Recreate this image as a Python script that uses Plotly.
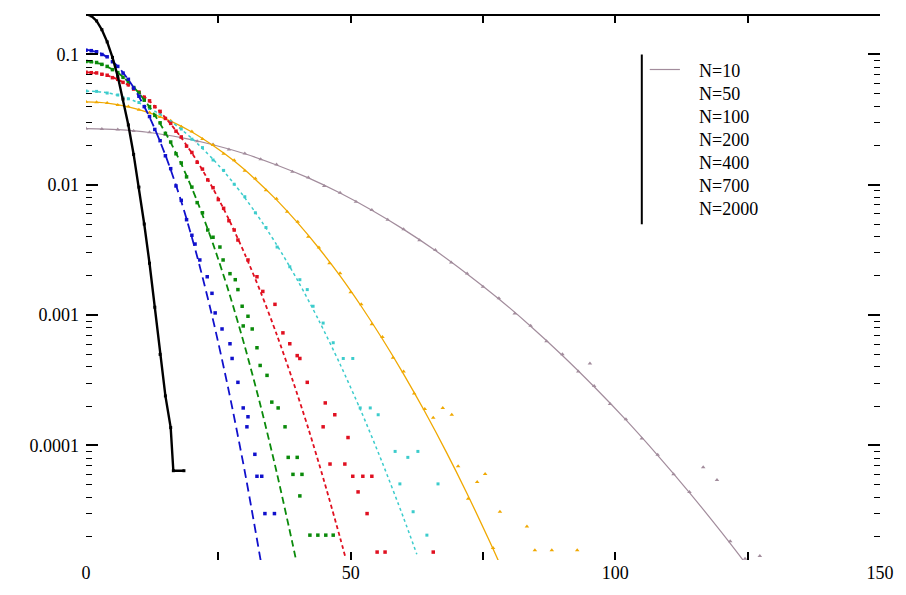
import plotly.graph_objects as go

# ---------------- data ----------------
labels = ["N=10", "N=50", "N=100", "N=200", "N=400", "N=700", "N=2000"]
colors = ["#a28c9c", "#f0a800", "#3ccccc", "#e01020", "#0a8a0a", "#1010cc", "#000000"]

# fitted curves
fit_x_n10 = [0, 6, 12, 18, 24, 30, 36, 42, 48, 54, 60, 66, 72, 78, 84, 90, 96, 102, 108, 114, 120, 124.5]
fit_y_n10 = [0.027, 0.0265, 0.0252, 0.023, 0.0203, 0.0173, 0.0142, 0.0113, 0.00865, 0.00638, 0.00455,
             0.00313, 0.00207, 0.00133, 0.000822, 0.00049, 0.000282, 0.000157, 8.4e-5, 4.35e-5, 2.17e-5, 1.26e-5]
fit_x_n50 = [0, 4, 8, 12, 16, 20, 24, 28, 32, 36, 40, 44, 48, 52, 56, 60, 64, 68, 72, 76, 78]
fit_y_n50 = [0.0433, 0.0424, 0.0397, 0.0357, 0.0308, 0.0254, 0.02, 0.0152, 0.011, 0.00766, 0.0051,
             0.00326, 0.002, 0.00117, 0.000656, 0.000353, 0.000182, 9e-5, 4.26e-5, 1.93e-5, 1.28e-5]
fit_x_n100 = [0, 4, 8, 12, 16, 20, 24, 28, 32, 36, 40, 44, 48, 52, 56, 60, 62.5]
fit_y_n100 = [0.0525, 0.0508, 0.0459, 0.0388, 0.0307, 0.0227, 0.0157, 0.01016, 0.00614, 0.00348,
              0.00184, 0.000908, 0.00042, 0.000182, 7.34e-5, 2.78e-5, 1.46e-5]
fit_x_n200 = [0, 3, 6, 9, 12, 15, 18, 21, 24, 27, 30, 33, 36, 39, 42, 45, 48, 49]
fit_y_n200 = [0.0731, 0.0708, 0.0643, 0.0547, 0.0438, 0.0327, 0.023, 0.01514, 0.00935, 0.00542,
              0.00294, 0.0015, 0.000716, 0.00032, 0.000135, 5.3e-5, 1.96e-5, 1.39e-5]
fit_x_n400 = [0, 3, 6, 9, 12, 15, 18, 21, 24, 27, 30, 33, 36, 39, 39.7]
fit_y_n400 = [0.0885, 0.0841, 0.0724, 0.0562, 0.0395, 0.0251, 0.01445, 0.0075, 0.00352, 0.0015,
              0.000575, 0.0002, 6.28e-5, 1.78e-5, 1.31e-5]
fit_x_n700 = [0, 3, 6, 9, 12, 15, 18, 21, 24, 27, 30, 33]
fit_y_n700 = [0.109, 0.101, 0.081, 0.0557, 0.0331, 0.0169, 0.00745, 0.00282, 0.00092, 0.000259, 6.3e-5, 1.31e-5]

# measured points
pts_x_n10 = [0, 3, 6, 9, 12, 15, 18, 21, 24, 27, 30, 33, 36, 39, 42, 45, 48, 51, 54, 57, 60, 63, 66, 69,
             72, 75, 78, 81, 84, 87, 90, 93, 96, 99, 102, 105, 108, 111, 114,
             95.2, 116.6, 119.2, 121.7, 124.5, 127.3]
pts_y_n10 = [0.027, 0.0268, 0.0266, 0.0259, 0.0253, 0.0241, 0.0231, 0.0216, 0.0204, 0.0187, 0.0174, 0.0157,
             0.0143, 0.0126, 0.0114, 0.0098, 0.0087, 0.0074, 0.0064, 0.0054, 0.00457, 0.00376, 0.00316,
             0.00253, 0.00209, 0.00165, 0.00135, 0.00103, 0.00083, 0.00063, 0.00050, 0.00037, 0.000286,
             0.000208, 0.000159, 0.000113, 8.5e-5, 6.0e-5, 4.4e-5,
             0.000426, 6.8e-5, 5.43e-5, 1.84e-5, 1.35e-5, 1.42e-5]
pts_x_n50 = [0, 2, 4, 6, 8, 10, 12, 14, 16, 18, 20, 22, 24, 26, 28, 30, 32, 34, 36, 38, 40, 42, 44, 46,
             48, 50, 52, 54, 56, 58, 60, 62, 64,
             67.4, 69.1, 65.6, 70.3, 73.9, 75.4, 72.2, 78.2, 83.3, 76.9, 84.8, 88.0, 92.8]
pts_y_n50 = [0.0433, 0.0430, 0.0425, 0.0410, 0.0399, 0.0376, 0.0359, 0.0331, 0.0310, 0.0279, 0.0256,
             0.0225, 0.0202, 0.0173, 0.0154, 0.0128, 0.0112, 0.0091, 0.0078, 0.0062, 0.0052, 0.0040,
             0.0033, 0.0025, 0.0021, 0.00150, 0.00121, 0.00085, 0.00068, 0.00047, 0.00037, 0.00025, 0.00019,
             0.000194, 0.000172, 0.000163, 6.93e-5, 5.25e-5, 6.03e-5, 3.9e-5, 3.1e-5, 2.39e-5, 1.63e-5,
             1.57e-5, 1.57e-5, 1.57e-5]
pts_x_n100 = [0, 2, 4, 6, 8, 10, 12, 14, 16, 18, 20, 22, 24, 26, 28, 30, 32, 34,
              36.1, 38.5, 40.4, 41.8, 42.9, 44.8, 46.7, 48.6, 50.4, 51.8, 53.7, 55.2, 58.4, 60.8, 62.7,
              59.3, 66.5, 61.8, 64.4]
pts_y_n100 = [0.0525, 0.0521, 0.0506, 0.0489, 0.0457, 0.0428, 0.0385, 0.0351, 0.0304, 0.0268, 0.0224,
              0.0193, 0.0155, 0.0129, 0.0101, 0.0081, 0.0061, 0.0047,
              0.00333, 0.00235, 0.00187, 0.00157, 0.00117, 0.000869, 0.000614, 0.000465, 0.000465,
              0.000194, 0.000194, 0.000172, 9.0e-5, 8.1e-5, 9.0e-5, 5.07e-5, 5.07e-5, 3.1e-5, 2.05e-5]
pts_x_n200 = [0, 1, 2, 3, 4, 5, 6, 7, 8, 9, 10, 11, 12, 13, 14, 15, 16, 17, 18, 19, 20, 21, 22, 23, 24,
              25, 26, 27, 28,
              28.7, 30.6, 32.3, 33.4, 35.7, 37.2, 38.5, 39.9, 40.4, 41.8, 45.2, 47.0, 44.8, 49.5, 46.1,
              48.9, 50.4, 52.3, 54.0, 51.4, 53.1, 55.0, 56.5, 65.6]
pts_y_n200 = [0.0731, 0.0725, 0.0722, 0.0705, 0.0693, 0.0664, 0.0645, 0.0611, 0.0585, 0.0543, 0.0515,
              0.0470, 0.0441, 0.0397, 0.0366, 0.0323, 0.0296, 0.0258, 0.0233, 0.0198, 0.0177, 0.0149,
              0.0132, 0.0109, 0.0095, 0.0077, 0.0066, 0.0053, 0.0045,
              0.00377, 0.00265, 0.00197, 0.00152, 0.00121, 0.000731, 0.000603, 0.000489, 0.000465,
              0.000305, 0.000212, 0.000172, 0.000139, 0.000115, 7.2e-5, 7.2e-5, 5.8e-5, 5.8e-5, 5.8e-5,
              4.4e-5, 3.0e-5, 1.52e-5, 1.52e-5, 1.52e-5]
pts_x_n400 = [0, 1, 2, 3, 4, 5, 6, 7, 8, 9, 10, 11, 12, 13, 14, 15, 16, 17, 18, 19, 20, 21, 22, 23,
              24.0, 25.3, 25.9, 27.2, 28.2, 28.7, 29.5, 30.6, 29.7, 31.4, 32.3, 32.9, 34.2, 35.1, 36.3,
              37.6, 38.2, 39.9, 39.1, 40.8, 40.4, 42.3, 43.8, 45.3, 46.7]
pts_y_n400 = [0.0885, 0.088, 0.0868, 0.084, 0.081, 0.0765, 0.0726, 0.0668, 0.0622, 0.0558, 0.0509,
              0.0446, 0.0398, 0.0341, 0.0299, 0.0248, 0.0213, 0.0173, 0.0147, 0.0115, 0.0096, 0.0073,
              0.0061, 0.0045,
              0.00396, 0.00333, 0.00265, 0.00208, 0.00187, 0.00157, 0.00117, 0.00098, 0.000826,
              0.000783, 0.000562, 0.000411, 0.000345, 0.000215, 0.000194, 0.000139, 8.1e-5, 8.1e-5,
              6.0e-5, 6.0e-5, 4.1e-5, 2.05e-5, 2.05e-5, 2.05e-5, 2.05e-5]
pts_x_n700 = [0, 1, 2, 3, 4, 5, 6, 7, 8, 9, 10, 11, 12, 13, 14, 15, 16, 17, 18, 19, 20,
              20.6, 21.5, 22.9, 23.8, 24.4, 25.7, 27.2, 27.6, 28.7, 29.7, 30.6, 30.4, 31.9, 32.3, 33.2,
              33.8, 35.6]
pts_y_n700 = [0.108, 0.107, 0.105, 0.100, 0.096, 0.088, 0.081, 0.072, 0.0645, 0.0552, 0.0478, 0.0398,
              0.0334, 0.0266, 0.0218, 0.0167, 0.0133, 0.0098, 0.0076, 0.0054, 0.0041,
              0.00351, 0.00265, 0.00197, 0.00147, 0.00104, 0.000783, 0.000603, 0.000465, 0.000305,
              0.000194, 0.000166, 0.000139, 8.55e-5, 5.8e-5, 5.8e-5, 3.0e-5, 3.0e-5]
pts_x_n2000 = [0, 1, 2, 3, 4, 5, 6, 7, 8, 9, 10, 11, 12, 13, 14, 15, 16, 16.5, 18.5]
pts_y_n2000 = [0.204, 0.198, 0.181, 0.155, 0.125, 0.095, 0.068, 0.0455, 0.0288, 0.0171, 0.0096, 0.0050,
               0.0025, 0.00115, 0.00050, 0.00024, 0.000137, 6.4e-5, 6.4e-5]

x_tick_vals = [0, 25, 50, 75, 100, 125, 150]
x_tick_text = ["0", "", "50", "", "100", "", "150"]
y_major_vals = [0.1, 0.01, 0.001, 0.0001]
y_major_text = ["0.1", "0.01", "0.001", "0.0001"]

# ---------------- figure ----------------
fig = go.Figure()

fits = [(fit_x_n10, fit_y_n10, "solid", 1.2), (fit_x_n50, fit_y_n50, "solid", 1.3),
        (fit_x_n100, fit_y_n100, "dot", 1.5), (fit_x_n200, fit_y_n200, "4px,3px", 1.8),
        (fit_x_n400, fit_y_n400, "7px,4px", 1.8), (fit_x_n700, fit_y_n700, "9px,5px", 1.8)]
pts = [(pts_x_n10, pts_y_n10, "triangle-up", 4), (pts_x_n50, pts_y_n50, "triangle-up", 4),
       (pts_x_n100, pts_y_n100, "square", 3), (pts_x_n200, pts_y_n200, "square", 3.5),
       (pts_x_n400, pts_y_n400, "square", 3.5), (pts_x_n700, pts_y_n700, "square", 3.5)]

for i in range(6):
    fx, fy, dash, w = fits[i]
    fig.add_trace(go.Scatter(x=fx, y=fy, mode="lines", line=dict(color=colors[i], width=w, dash=dash,
                             shape="spline", smoothing=0.8), showlegend=False, hoverinfo="skip"))
    px_, py_, sym, sz = pts[i]
    fig.add_trace(go.Scatter(x=px_, y=py_, mode="markers",
                             marker=dict(color=colors[i], size=sz, symbol=sym, line=dict(width=0)),
                             name=labels[i], showlegend=False))

fig.add_trace(go.Scatter(x=pts_x_n2000, y=pts_y_n2000, mode="lines+markers",
                         line=dict(color="black", width=2.4),
                         marker=dict(color="black", size=3, symbol="square"),
                         name=labels[6], showlegend=False))

# log-axis minor tick positions
minor_vals = []
for d in [1e-5, 1e-4, 1e-3, 1e-2, 1e-1]:
    for m in range(2, 10):
        minor_vals.append(m * d)

font = dict(family="Liberation Serif, Times New Roman, serif", size=18, color="black")

fig.update_layout(
    width=906, height=595,
    margin=dict(l=86, r=26, t=15, b=28),
    paper_bgcolor="white", plot_bgcolor="white",
    font=font,
    xaxis=dict(range=[0, 150], tickvals=x_tick_vals, ticktext=x_tick_text,
               ticks="inside", ticklen=8, tickwidth=1.5, tickcolor="black",
               showline=False, mirror="ticks", showgrid=False, zeroline=False,
               tickfont=font, ticklabelstandoff=0),
    yaxis=dict(type="log", range=[-4.879, -0.697], tickvals=y_major_vals, ticktext=y_major_text,
               ticks="inside", ticklen=12, tickwidth=1.5, tickcolor="black",
               minor=dict(tickvals=minor_vals, ticks="inside", ticklen=6, tickwidth=1.2, tickcolor="black"),
               showline=False, mirror="ticks", showgrid=False, zeroline=False,
               tickfont=font, ticklabelstandoff=6),
)

# top border line
fig.add_shape(type="line", xref="paper", yref="paper", x0=0, x1=1, y0=1, y1=1,
              line=dict(color="black", width=2))

# legend (manual)
leg_x = 0.7695
leg_y0 = 0.897
leg_dy = 0.0422
fig.add_shape(type="line", xref="paper", yref="paper", x0=0.700, x1=0.700, y0=0.616, y1=0.9275,
              line=dict(color="black", width=2))
fig.add_shape(type="line", xref="paper", yref="paper", x0=0.710, x1=0.748, y0=0.900, y1=0.900,
              line=dict(color=colors[0], width=1.2))
for i, lab in enumerate(labels):
    fig.add_annotation(xref="paper", yref="paper", x=leg_x, y=leg_y0 - i * leg_dy, text=lab,
                       showarrow=False, xanchor="left", yanchor="middle", font=font)

fig.write_html("out.html")
